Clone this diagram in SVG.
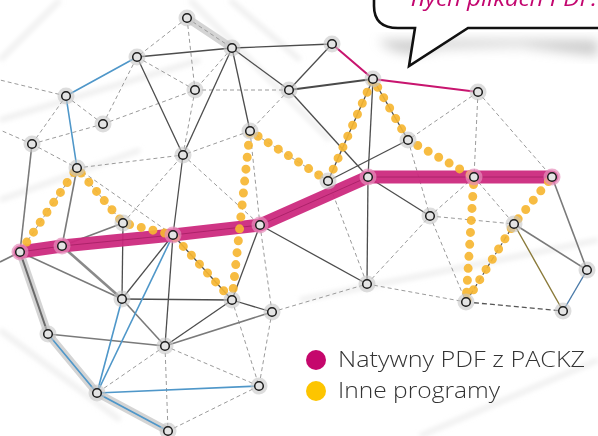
<svg xmlns="http://www.w3.org/2000/svg" width="598" height="436" viewBox="0 0 598 436">
<defs>
<filter id="blur" x="-20%" y="-50%" width="140%" height="200%"><feGaussianBlur stdDeviation="6"/></filter>
<filter id="soft" x="-10%" y="-10%" width="120%" height="120%"><feGaussianBlur stdDeviation="2.5"/></filter>
<style>
.d{stroke:#9a9a9a;stroke-width:1;stroke-dasharray:4 3;fill:none}
.s{stroke:#4d4d4d;stroke-width:1.3;fill:none}
.g{stroke:#7a7a7a;stroke-width:1.6;fill:none}
.b{stroke:#4f97c9;stroke-width:1.6;fill:none}
.band{stroke:#c9c9c9;stroke-width:8;stroke-linecap:round;stroke-linejoin:round;fill:none;opacity:.8}
.bg{stroke:#e3e3e3;stroke-width:5;fill:none;opacity:.6}
.halo{fill:#c6c6c6;opacity:.6}
.hp{fill:#e58dbb;opacity:.7}
.node{fill:#e4e4e4;stroke:#1c1c1c;stroke-width:1.5}
.lbl{font-family:"Open Sans","Noto Sans","Liberation Sans",sans-serif;font-weight:300;font-size:22.5px;fill:#333}
</style>
</defs>
<rect width="598" height="436" fill="#ffffff"/>
<g id="background" filter="url(#soft)">
<line class="bg" x1="0" y1="120" x2="200" y2="60"/>
<line class="bg" x1="190" y1="0" x2="330" y2="140"/>
<line class="bg" x1="0" y1="200" x2="140" y2="150"/>
<line class="bg" x1="0" y1="330" x2="120" y2="420"/>
<line class="bg" x1="300" y1="300" x2="598" y2="240"/>
<line class="bg" x1="420" y1="436" x2="598" y2="360"/>
<line class="bg" x1="230" y1="0" x2="300" y2="60"/>
<line class="bg" x1="0" y1="60" x2="60" y2="0"/>
</g>
<g id="bubble">
<path d="M378 40 Q400 62 440 48 L520 46 Q560 52 598 56 L598 40 Z" fill="#9a9a9a" opacity=".5" filter="url(#blur)"/>
<path d="M374 -10 L374 6 Q374 28 398 28 L415 28 L409 66 L468 28 L600 28 L600 -10 Z" fill="#ffffff" stroke="#111" stroke-width="2.6" stroke-linejoin="miter"/>
<text x="411" y="6" font-family="'Open Sans','Noto Sans','Liberation Sans',sans-serif" font-style="italic" font-size="22" fill="#c3066f" textLength="186" lengthAdjust="spacingAndGlyphs">nych plikach PDF.</text>
</g>
<g id="connectors">
<path class="band" d="M187 18 L232 48"/>
<path class="band" d="M20 252 L48 334 L97 393 L168 431"/>
<line class="d" x1="187" y1="18" x2="232" y2="48"/>
<line class="d" x1="187" y1="18" x2="195" y2="90"/>
<line class="d" x1="187" y1="18" x2="137" y2="57"/>
<line class="d" x1="232" y1="48" x2="195" y2="90"/>
<line class="d" x1="195" y1="90" x2="289" y2="90"/>
<line class="d" x1="195" y1="90" x2="183" y2="155"/>
<line class="d" x1="137" y1="57" x2="195" y2="90"/>
<line class="d" x1="103" y1="124" x2="137" y2="57"/>
<line class="d" x1="103" y1="124" x2="66" y2="96"/>
<line class="d" x1="103" y1="124" x2="195" y2="90"/>
<line class="d" x1="32" y1="144" x2="66" y2="96"/>
<line class="d" x1="32" y1="144" x2="103" y2="124"/>
<line class="d" x1="32" y1="144" x2="77" y2="168"/>
<line class="d" x1="32" y1="144" x2="0" y2="130"/>
<line class="d" x1="66" y1="96" x2="0" y2="80"/>
<line class="d" x1="289" y1="90" x2="250" y2="131"/>
<line class="d" x1="250" y1="131" x2="183" y2="155"/>
<line class="d" x1="250" y1="131" x2="260" y2="225"/>
<line class="d" x1="77" y1="168" x2="183" y2="155"/>
<line class="d" x1="77" y1="168" x2="173" y2="235"/>
<line class="d" x1="123" y1="223" x2="183" y2="155"/>
<line class="d" x1="183" y1="155" x2="260" y2="225"/>
<line class="d" x1="260" y1="225" x2="272" y2="312"/>
<line class="d" x1="328" y1="181" x2="367" y2="284"/>
<line class="d" x1="367" y1="284" x2="430" y2="216"/>
<line class="d" x1="367" y1="284" x2="466" y2="302"/>
<line class="d" x1="272" y1="312" x2="367" y2="284"/>
<line class="d" x1="408" y1="140" x2="430" y2="216"/>
<line class="d" x1="478" y1="92" x2="408" y2="140"/>
<line class="d" x1="478" y1="92" x2="474" y2="177"/>
<line class="d" x1="478" y1="92" x2="552" y2="177"/>
<line class="d" x1="474" y1="177" x2="430" y2="216"/>
<line class="d" x1="474" y1="177" x2="514" y2="224"/>
<line class="d" x1="430" y1="216" x2="514" y2="224"/>
<line class="d" x1="430" y1="216" x2="466" y2="302"/>
<line class="d" x1="165" y1="346" x2="97" y2="393"/>
<line class="d" x1="165" y1="346" x2="168" y2="431"/>
<line class="d" x1="165" y1="346" x2="259" y2="386"/>
<line class="d" x1="232" y1="300" x2="259" y2="386"/>
<line class="d" x1="272" y1="312" x2="259" y2="386"/>
<line class="d" x1="259" y1="386" x2="168" y2="431"/>
<line class="d" x1="20" y1="252" x2="77" y2="168"/>
<line class="d" x1="77" y1="168" x2="123" y2="223"/>
<line class="d" x1="250" y1="131" x2="328" y2="181"/>
<line x1="466" y1="302" x2="563" y2="311" stroke="#555" stroke-width="1.3" stroke-dasharray="5 3"/>
<line x1="466" y1="302" x2="514" y2="224" stroke="#555" stroke-width="1.2" stroke-dasharray="5 3"/>
<line class="s" x1="137" y1="57" x2="232" y2="48"/>
<line class="s" x1="137" y1="57" x2="183" y2="155"/>
<line class="s" x1="232" y1="48" x2="332" y2="44"/>
<line class="s" x1="232" y1="48" x2="250" y2="131"/>
<line class="s" x1="232" y1="48" x2="289" y2="90"/>
<line class="s" x1="232" y1="48" x2="183" y2="155"/>
<line class="s" x1="332" y1="44" x2="289" y2="90"/>
<line x1="289" y1="90" x2="373" y2="79" stroke="#4a4a4a" stroke-width="2"/>
<line class="s" x1="289" y1="90" x2="368" y2="177"/>
<line class="s" x1="373" y1="79" x2="368" y2="177"/>
<line class="s" x1="373" y1="79" x2="408" y2="140"/>
<line class="s" x1="373" y1="79" x2="328" y2="181"/>
<line class="s" x1="408" y1="140" x2="328" y2="181"/>
<line class="s" x1="368" y1="177" x2="367" y2="284"/>
<line class="s" x1="368" y1="177" x2="430" y2="216"/>
<line class="s" x1="260" y1="225" x2="367" y2="284"/>
<line class="s" x1="260" y1="225" x2="232" y2="300"/>
<line class="s" x1="183" y1="155" x2="173" y2="235"/>
<line class="s" x1="173" y1="235" x2="232" y2="300"/>
<line class="s" x1="173" y1="235" x2="165" y2="346"/>
<line class="s" x1="122" y1="299" x2="173" y2="235"/>
<line class="s" x1="122" y1="299" x2="123" y2="223"/>
<line class="s" x1="122" y1="299" x2="232" y2="300"/>
<line class="s" x1="232" y1="300" x2="165" y2="346"/>
<line class="s" x1="232" y1="300" x2="272" y2="312"/>
<line class="g" x1="272" y1="312" x2="165" y2="346"/>
<line class="g" x1="122" y1="299" x2="165" y2="346"/>
<line class="g" x1="48" y1="334" x2="165" y2="346"/>
<line class="g" x1="32" y1="144" x2="20" y2="252"/>
<line class="g" x1="77" y1="168" x2="62" y2="246"/>
<line class="g" x1="62" y1="246" x2="123" y2="223"/>
<line x1="62" y1="246" x2="122" y2="299" stroke="#8a8a8a" stroke-width="2.6"/>
<line class="g" x1="20" y1="252" x2="122" y2="299"/>
<line x1="20" y1="252" x2="48" y2="334" stroke="#6a6a6a" stroke-width="2"/>
<line class="g" x1="20" y1="252" x2="0" y2="262"/>
<line class="g" x1="514" y1="224" x2="587" y2="270"/>
<line class="g" x1="552" y1="177" x2="587" y2="270"/>
<line x1="514" y1="224" x2="563" y2="311" stroke="#8a7a3a" stroke-width="1.4"/>
<line x1="563" y1="311" x2="587" y2="270" stroke="#4a7aa8" stroke-width="1.4"/>
<path class="b" d="M137 57 L66 96 L77 168"/>
<path class="b" d="M48 334 L97 393 L168 431"/>
<line class="b" x1="97" y1="393" x2="122" y2="299"/>
<line class="b" x1="97" y1="393" x2="173" y2="235"/>
<line class="b" x1="97" y1="393" x2="259" y2="386"/>
<path d="M332 44 L373 79 L478 92" fill="none" stroke="#c8156f" stroke-width="2"/>
<path d="M20 252 L62 246 L173 235 L260 225 L368 177 L474 177 L552 177" fill="none" stroke="#cc2a7e" stroke-width="13" stroke-linejoin="round" stroke-linecap="round" opacity=".95"/>
<path d="M20 252 L62 246 L173 235 L260 225 L368 177 L474 177 L552 177" fill="none" stroke="#9e1a5e" stroke-width="1" opacity=".7"/>
<path d="M20 252 L77 168 L123 223 L173 235 L232 300 L250 131 L328 181 L373 79 L408 140 L474 177 L466 302 L514 224 L552 177" fill="none" stroke="#f6b632" stroke-width="9" stroke-linecap="round" stroke-linejoin="round" stroke-dasharray="0 12" opacity=".92"/>
</g>
<g id="nodes">
<g id="n1"><circle class="halo" cx="187" cy="18" r="8.5"/><circle class="node" cx="187" cy="18" r="4.3"/></g>
<g id="n2"><circle class="halo" cx="137" cy="57" r="8.5"/><circle class="node" cx="137" cy="57" r="4.3"/></g>
<g id="n3"><circle class="halo" cx="232" cy="48" r="8.5"/><circle class="node" cx="232" cy="48" r="4.3"/></g>
<g id="n4"><circle class="halo" cx="332" cy="44" r="8.5"/><circle class="node" cx="332" cy="44" r="4.3"/></g>
<g id="n5"><circle class="halo" cx="66" cy="96" r="8.5"/><circle class="node" cx="66" cy="96" r="4.3"/></g>
<g id="n6"><circle class="halo" cx="195" cy="90" r="8.5"/><circle class="node" cx="195" cy="90" r="4.3"/></g>
<g id="n7"><circle class="halo" cx="289" cy="90" r="8.5"/><circle class="node" cx="289" cy="90" r="4.3"/></g>
<g id="n8"><circle class="halo" cx="373" cy="79" r="8.5"/><circle class="node" cx="373" cy="79" r="4.3"/></g>
<g id="n9"><circle class="halo" cx="478" cy="92" r="8.5"/><circle class="node" cx="478" cy="92" r="4.3"/></g>
<g id="n10"><circle class="halo" cx="103" cy="124" r="8.5"/><circle class="node" cx="103" cy="124" r="4.3"/></g>
<g id="n11"><circle class="halo" cx="250" cy="131" r="8.5"/><circle class="node" cx="250" cy="131" r="4.3"/></g>
<g id="n12"><circle class="halo" cx="32" cy="144" r="8.5"/><circle class="node" cx="32" cy="144" r="4.3"/></g>
<g id="n13"><circle class="halo" cx="408" cy="140" r="8.5"/><circle class="node" cx="408" cy="140" r="4.3"/></g>
<g id="n14"><circle class="halo" cx="183" cy="155" r="8.5"/><circle class="node" cx="183" cy="155" r="4.3"/></g>
<g id="n15"><circle class="halo" cx="77" cy="168" r="8.5"/><circle class="node" cx="77" cy="168" r="4.3"/></g>
<g id="n16"><circle class="halo" cx="328" cy="181" r="8.5"/><circle class="node" cx="328" cy="181" r="4.3"/></g>
<g id="n17"><circle class="hp" cx="368" cy="177" r="8.5"/><circle class="node" cx="368" cy="177" r="4.3"/></g>
<g id="n18"><circle class="hp" cx="474" cy="177" r="8.5"/><circle class="node" cx="474" cy="177" r="4.3"/></g>
<g id="n19"><circle class="hp" cx="552" cy="177" r="8.5"/><circle class="node" cx="552" cy="177" r="4.3"/></g>
<g id="n20"><circle class="halo" cx="123" cy="223" r="8.5"/><circle class="node" cx="123" cy="223" r="4.3"/></g>
<g id="n21"><circle class="hp" cx="173" cy="235" r="8.5"/><circle class="node" cx="173" cy="235" r="4.3"/></g>
<g id="n22"><circle class="hp" cx="260" cy="225" r="8.5"/><circle class="node" cx="260" cy="225" r="4.3"/></g>
<g id="n23"><circle class="hp" cx="20" cy="252" r="8.5"/><circle class="node" cx="20" cy="252" r="4.3"/></g>
<g id="n24"><circle class="hp" cx="62" cy="246" r="8.5"/><circle class="node" cx="62" cy="246" r="4.3"/></g>
<g id="n25"><circle class="halo" cx="430" cy="216" r="8.5"/><circle class="node" cx="430" cy="216" r="4.3"/></g>
<g id="n26"><circle class="halo" cx="514" cy="224" r="8.5"/><circle class="node" cx="514" cy="224" r="4.3"/></g>
<g id="n27"><circle class="halo" cx="367" cy="284" r="8.5"/><circle class="node" cx="367" cy="284" r="4.3"/></g>
<g id="n28"><circle class="halo" cx="587" cy="270" r="8.5"/><circle class="node" cx="587" cy="270" r="4.3"/></g>
<g id="n29"><circle class="halo" cx="122" cy="299" r="8.5"/><circle class="node" cx="122" cy="299" r="4.3"/></g>
<g id="n30"><circle class="halo" cx="232" cy="300" r="8.5"/><circle class="node" cx="232" cy="300" r="4.3"/></g>
<g id="n31"><circle class="halo" cx="272" cy="312" r="8.5"/><circle class="node" cx="272" cy="312" r="4.3"/></g>
<g id="n32"><circle class="halo" cx="466" cy="302" r="8.5"/><circle class="node" cx="466" cy="302" r="4.3"/></g>
<g id="n33"><circle class="halo" cx="563" cy="311" r="8.5"/><circle class="node" cx="563" cy="311" r="4.3"/></g>
<g id="n34"><circle class="halo" cx="48" cy="334" r="8.5"/><circle class="node" cx="48" cy="334" r="4.3"/></g>
<g id="n35"><circle class="halo" cx="165" cy="346" r="8.5"/><circle class="node" cx="165" cy="346" r="4.3"/></g>
<g id="n36"><circle class="halo" cx="97" cy="393" r="8.5"/><circle class="node" cx="97" cy="393" r="4.3"/></g>
<g id="n37"><circle class="halo" cx="259" cy="386" r="8.5"/><circle class="node" cx="259" cy="386" r="4.3"/></g>
<g id="n38"><circle class="halo" cx="168" cy="431" r="8.5"/><circle class="node" cx="168" cy="431" r="4.3"/></g>
</g>
<g id="legend">
<circle cx="316" cy="360" r="10" fill="#c5076c"/>
<text class="lbl" x="338" y="367" textLength="247" lengthAdjust="spacingAndGlyphs">Natywny PDF z PACKZ</text>
<circle cx="316" cy="391" r="10" fill="#fdc500"/>
<text class="lbl" x="338" y="398" textLength="162" lengthAdjust="spacingAndGlyphs">Inne programy</text>
</g>
</svg>
